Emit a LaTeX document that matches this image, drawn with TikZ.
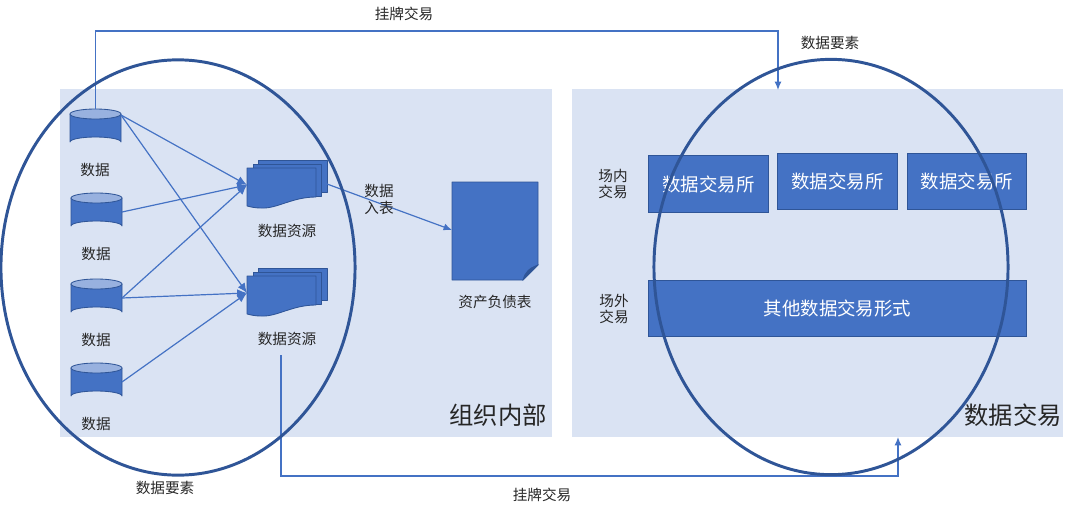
\documentclass[tikz,border=0pt]{standalone}
\usepackage{fontspec}
\usepackage{xcolor}
\setmainfont{Noto Sans CJK SC}
\usetikzlibrary{shapes.geometric,arrows.meta}
\definecolor{dtpanel}{HTML}{DAE3F3}
\definecolor{dtblue}{HTML}{4472C4}
\definecolor{dtdark}{HTML}{2F5597}
\definecolor{dttext}{HTML}{262626}
\tikzset{
  dtpanel/.style={fill=dtpanel, draw=none, anchor=north west, inner sep=0pt},
  dtring/.style={ellipse, draw=dtdark, line width=2.1pt, fill=none, inner sep=0pt, minimum width=8.85cm, minimum height=10.38cm},
  dtbox/.style={fill=dtblue, draw=dtdark, line width=0.7pt, text=white, inner sep=0pt, font=\fontsize{13.1}{15}\selectfont},
  dtsheet/.style={fill=dtblue, draw=dtdark, line width=0.6pt, line join=round},
  dtlink/.style={draw=dtblue, line width=0.85pt, -{Latex[length=7pt,width=6pt]}},
  dtwire/.style={draw=dtblue, line width=0.85pt, -{Latex[length=6pt,width=5pt]}},
  dtlabel/.style={text=dttext, inner sep=0pt, align=center, font=\fontsize{10.4}{12}\selectfont},
  dthead/.style={text=dttext, inner sep=0pt, font=\fontsize{17.3}{20}\selectfont},
  dtdrum/.pic={
    \draw[dtsheet] (0,5) -- (0,33) arc[start angle=180, end angle=360, x radius=25.5, y radius=5] -- (51,5) -- cycle;
    \draw[fill=dtblue!55, draw=dtdark, line width=0.6pt] (25.5,5) ellipse[x radius=25.5, y radius=5];
    \coordinate (-top) at (25.5,0);
    \coordinate (-up) at (51,6);
    \coordinate (-out) at (51,19);
  },
  dtstack/.pic={
    \draw[dtsheet] (11,0) rectangle (80,32);
    \draw[dtsheet] (6,4) rectangle (74,36);
    \draw[dtsheet] (0,8) -- (69,8) -- (69,37) .. controls (45,37) and (30,49) .. (14,48) .. controls (8,48) and (4,47) .. (0,46) -- cycle;
    \coordinate (-in) at (0,25);
    \coordinate (-out) at (80,24);
  },
}

\begin{document}
\begin{tikzpicture}[x=0.025cm,y=-0.025cm]
\useasboundingbox (0,0) rectangle (1080,513);
% panels
\node[dtpanel, minimum width=12.3cm, minimum height=8.7cm] (inner) at (60,89) {};
\node[dtpanel, minimum width=12.275cm, minimum height=8.7cm] (market) at (572,89) {};
% data stores
\pic (db1) at (70,109) {dtdrum};
\pic (db2) at (71,193) {dtdrum};
\pic (db3) at (71,279) {dtdrum};
\pic (db4) at (71,363) {dtdrum};
\node[dtlabel] (dbt1) at (95,170) {数据};
\node[dtlabel] (dbt2) at (96,254) {数据};
\node[dtlabel] (dbt3) at (96,340) {数据};
\node[dtlabel] (dbt4) at (96,424) {数据};
% resources
\pic (res1) at (247,160) {dtstack};
\pic (res2) at (247,268) {dtstack};
\node[dtlabel] (rest1) at (287,231) {数据资源};
\node[dtlabel] (rest2) at (287,339) {数据资源};
\draw[dtlink] (db1-up) -- (res1-in);
\draw[dtlink] (db1-up) -- (res2-in);
\draw[dtlink] (db2-out) -- (res1-in);
\draw[dtlink] (db3-out) -- (res1-in);
\draw[dtlink] (db3-out) -- (res2-in);
\draw[dtlink] (db4-out) -- (res2-in);
% balance sheet
\draw[dtsheet] (452,182) -- (538,182) -- (538,265) -- (523,280) -- (452,280) -- cycle;
\draw[fill=dtdark, draw=dtdark, line width=0.4pt] (523,280) .. controls (525,272) and (529,268) .. (538,265) -- cycle;
\coordinate (sheetin) at (452,230);
\node[dtlabel] (sheett) at (495,302) {资产负债表};
\draw[dtwire] (res1-out) -- (sheetin);
\node[dtlabel] (entry) at (379,199) {数据\\入表};
% exchanges
\node[dtbox, minimum width=3cm, minimum height=1.425cm] (ex1) at (708.5,184) {数据交易所};
\node[dtbox, minimum width=3cm, minimum height=1.4cm] (ex2) at (837.5,181.5) {数据交易所};
\node[dtbox, minimum width=2.975cm, minimum height=1.4cm] (ex3) at (967,181.5) {数据交易所};
\node[dtbox, minimum width=9.45cm, minimum height=1.4cm] (other) at (837.5,308.5) {其他数据交易形式};
\node[dtlabel] (inside) at (613,184) {场内\\交易};
\node[dtlabel] (outside) at (614,309) {场外\\交易};
\node[dthead] (innert) at (498,415) {组织内部};
\node[dthead] (markett) at (1013,415) {数据交易};
% listing routes
\coordinate (topend) at (778,90);
\coordinate (lowstart) at (281,355);
\coordinate (lowend) at (898,437);
\draw[dtwire] (db1-top) -- (db1-top |- 0,31) -- (778,31) -- (topend);
\draw[dtwire] (lowstart) -- (281,476) -- (898,476) -- (lowend);
\node[dtlabel] (toplist) at (404,14) {挂牌交易};
\node[dtlabel] (lowlist) at (542,495) {挂牌交易};
\node[dtlabel] (topelem) at (830,43) {数据要素};
\node[dtlabel] (lowelem) at (165,488) {数据要素};
% rings
\node[dtring] (ringl) at (178,267.5) {};
\node[dtring] (ringr) at (831,267) {};
\end{tikzpicture}
\end{document}
